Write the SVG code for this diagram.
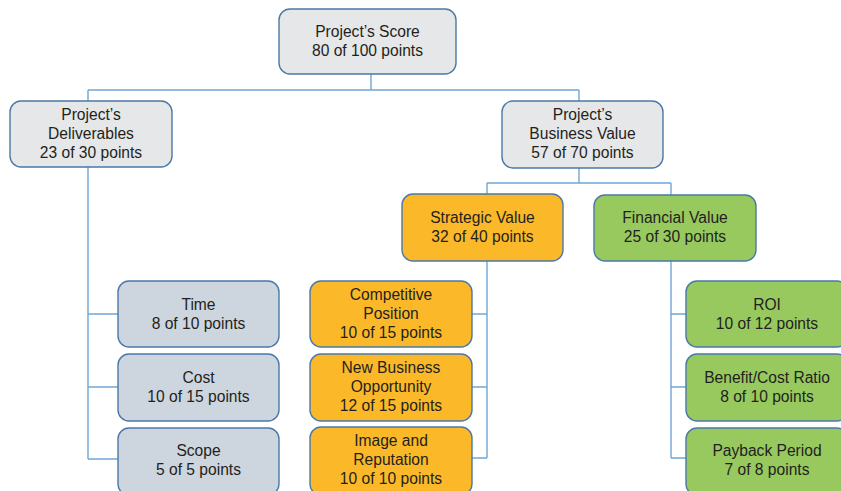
<svg xmlns="http://www.w3.org/2000/svg" width="841" height="491" viewBox="0 0 841 491">
<style>
.box{stroke:#4a78a8;stroke-width:1.4}
.g1{fill:#e6e7e8}
.g2{fill:#cdd5df}
.o{fill:#fbb929}
.gr{fill:#97c95e}
text{font-family:"Liberation Sans",Arial,sans-serif;font-size:15.6px;fill:#231f20;text-anchor:middle}
.c{fill:none;stroke:#6fa6d6;stroke-width:1.4}
</style>
<rect width="841" height="491" fill="#ffffff"/>
<g id="connectors" class="c">
<path d="M371 74V90M88 90H579M88 90V101M579 90V101"/>
<path d="M88 167V459M88 314H118M88 387H118M88 459H118"/>
<path d="M579 168V183M487 183H671M487 183V194M671 183V195"/>
<path d="M487 261V458M472 314H487M472 387H487M472 458H487"/>
<path d="M671 261V458M671 314H686M671 387H686M671 458H686"/>
</g>
<g id="score"><rect class="box g1" x="279" y="9" width="177" height="65" rx="11"/><text x="367.5" y="37">Project’s Score</text><text x="367.5" y="56">80 of 100 points</text></g>
<g id="deliverables"><rect class="box g1" x="10" y="101" width="162" height="66" rx="11"/><text x="91" y="119.5">Project’s</text><text x="91" y="138.5">Deliverables</text><text x="91" y="157.5">23 of 30 points</text></g>
<g id="business"><rect class="box g1" x="502" y="101" width="161" height="67" rx="11"/><text x="582.5" y="120">Project’s</text><text x="582.5" y="139">Business Value</text><text x="582.5" y="158">57 of 70 points</text></g>
<g id="strategic"><rect class="box o" x="402" y="194" width="161" height="67" rx="11"/><text x="482.5" y="223">Strategic Value</text><text x="482.5" y="242">32 of 40 points</text></g>
<g id="financial"><rect class="box gr" x="594" y="195" width="162" height="66" rx="11"/><text x="675" y="223">Financial Value</text><text x="675" y="242">25 of 30 points</text></g>
<g id="time"><rect class="box g2" x="118" y="281" width="161" height="66" rx="11"/><text x="198.5" y="309.5">Time</text><text x="198.5" y="328.5">8 of 10 points</text></g>
<g id="cost"><rect class="box g2" x="118" y="354" width="161" height="67" rx="11"/><text x="198.5" y="383">Cost</text><text x="198.5" y="402">10 of 15 points</text></g>
<g id="scope"><rect class="box g2" x="118" y="428" width="161" height="67" rx="11"/><text x="198.5" y="456">Scope</text><text x="198.5" y="475">5 of 5 points</text></g>
<g id="competitive"><rect class="box o" x="310" y="281" width="162" height="66" rx="11"/><text x="391" y="300">Competitive</text><text x="391" y="319">Position</text><text x="391" y="338">10 of 15 points</text></g>
<g id="newbusiness"><rect class="box o" x="310" y="354" width="162" height="67" rx="11"/><text x="391" y="373">New Business</text><text x="391" y="392">Opportunity</text><text x="391" y="411">12 of 15 points</text></g>
<g id="image"><rect class="box o" x="310" y="427" width="162" height="68" rx="11"/><text x="391" y="446">Image and</text><text x="391" y="465">Reputation</text><text x="391" y="484">10 of 10 points</text></g>
<g id="roi"><rect class="box gr" x="686" y="281" width="162" height="66" rx="11"/><text x="767" y="309.5">ROI</text><text x="767" y="328.5">10 of 12 points</text></g>
<g id="bcr"><rect class="box gr" x="686" y="354" width="162" height="67" rx="11"/><text x="767" y="383">Benefit/Cost Ratio</text><text x="767" y="402">8 of 10 points</text></g>
<g id="payback"><rect class="box gr" x="686" y="428" width="162" height="67" rx="11"/><text x="767" y="456">Payback Period</text><text x="767" y="475">7 of 8 points</text></g>
</svg>
